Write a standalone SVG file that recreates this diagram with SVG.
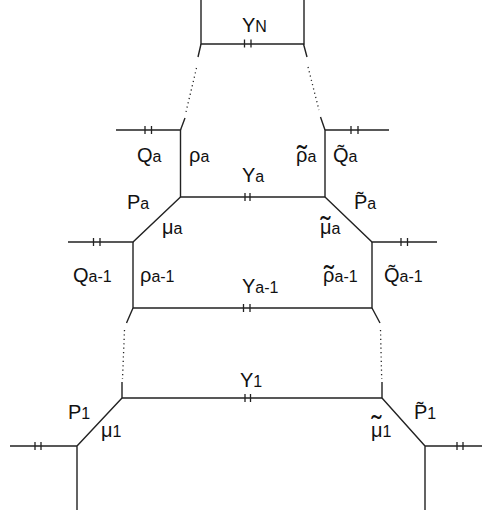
<svg xmlns="http://www.w3.org/2000/svg" width="483" height="516" viewBox="0 0 483 516">
<style>
.ln{stroke:#222;stroke-width:1.4;fill:none;stroke-linecap:butt}
.dt{stroke:#222;stroke-width:1.3;fill:none;stroke-dasharray:1.2 3.2}
.tk{stroke:#222;stroke-width:1.3}
text{font-family:"Liberation Sans",Arial,sans-serif;font-size:20px;fill:#111}
.s{font-size:16px}
.tl{font-size:30px;text-anchor:middle}
</style>
<rect width="483" height="516" fill="#fff"/>
<g id="connectors">
<path class="ln" d="M201,0V44H304V0"/>
<path class="ln" d="M201,44L198,57M185,118L180.5,130M303.5,44L307,57M320.5,117L325,130"/>
<path class="dt" d="M196.5,68L186,112M308,67L319,110"/>
<path class="ln" d="M116,130H180.5V197H325V130H389"/>
<path class="ln" d="M180.5,197L133,242H68M325,197L372,242H437"/>
<path class="ln" d="M133,242V308H372V242"/>
<path class="ln" d="M133,308L126.5,323M372,308L380,323"/>
<path class="dt" d="M124.5,330L122.5,379M380.5,330L381.7,379"/>
<path class="ln" d="M122,382V398H382V382"/>
<path class="ln" d="M122,398L77,446H10M77,446V510M382,398L425,446H482M425,446V510"/>
<g class="tk">
<path d="M244.5,39.5V47.5M251,39.5V47.5"/>
<path d="M145,126V134M151.5,126V134"/>
<path d="M351,126V134M358,126V134"/>
<path d="M245,193V201M250,193V201"/>
<path d="M93.5,238V246M100,238V246"/>
<path d="M401,238V246M407.5,238V246"/>
<path d="M243.5,304V312M250,304V312"/>
<path d="M245,394V402M250.5,394V402"/>
<path d="M35,442V450M41,442V450"/>
<path d="M457,442V450M463,442V450"/>
</g>
</g>
<g id="YN"><text x="242" y="32">Y<tspan class="s">N</tspan></text></g>
<g id="Qa"><text x="137" y="162">Q<tspan class="s">a</tspan></text></g>
<g id="rho_a"><text x="189" y="162">ρ<tspan class="s">a</tspan></text></g>
<g id="rho_t_a"><text x="296" y="162">ρ<tspan class="tl" x="302" y="166">˜</tspan><tspan class="s" x="307.5" y="162">a</tspan></text></g>
<g id="Qt_a"><text x="333" y="162">Q̃<tspan class="s">a</tspan></text></g>
<g id="Ya"><text x="242" y="182">Y<tspan class="s">a</tspan></text></g>
<g id="Pa"><text x="127" y="209">P<tspan class="s">a</tspan></text></g>
<g id="Pt_a"><text x="354" y="209">P̃<tspan class="s">a</tspan></text></g>
<g id="mu_a"><text x="162" y="234">μ<tspan class="s">a</tspan></text></g>
<g id="mu_t_a"><text x="320" y="234">μ<tspan class="tl" x="325.5" y="236.5">˜</tspan><tspan class="s" x="331.5" y="234">a</tspan></text></g>
<g id="Qa-1"><text x="73" y="282">Q<tspan class="s">a-1</tspan></text></g>
<g id="rho_a-1"><text x="140" y="282">ρ<tspan class="s">a-1</tspan></text></g>
<g id="rho_t_a-1"><text x="323" y="282">ρ<tspan class="tl" x="329" y="286">˜</tspan><tspan class="s" x="334.5" y="282">a-1</tspan></text></g>
<g id="Qt_a-1"><text x="384" y="282">Q̃<tspan class="s">a-1</tspan></text></g>
<g id="Ya-1"><text x="242" y="293">Y<tspan class="s">a-1</tspan></text></g>
<g id="Y1"><text x="240" y="387">Y<tspan class="s">1</tspan></text></g>
<g id="P1"><text x="68" y="419">P<tspan class="s">1</tspan></text></g>
<g id="Pt_1"><text x="414" y="419">P̃<tspan class="s">1</tspan></text></g>
<g id="mu_1"><text x="101" y="437">μ<tspan class="s">1</tspan></text></g>
<g id="mu_t_1"><text x="371" y="437">μ<tspan class="tl" x="376.5" y="436">˜</tspan><tspan class="s" x="382.5" y="437">1</tspan></text></g>
</svg>
